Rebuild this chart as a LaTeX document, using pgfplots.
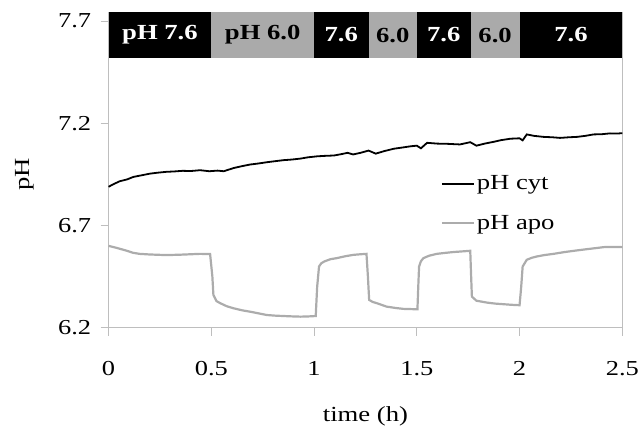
\documentclass[border=0pt]{standalone}
\usepackage{pgfplots}
\pgfplotsset{compat=1.18}
\usepackage{fontspec}
\setmainfont{Liberation Serif}[FakeStretch=1.24]
\definecolor{bandgray}{RGB}{170,170,170}
\definecolor{apogray}{RGB}{172,172,172}
\definecolor{axgray}{RGB}{190,190,190}
\newcommand{\tf}{\fontsize{21.3bp}{24bp}\selectfont}
\newcommand{\lf}{\fontsize{21.5bp}{25bp}\selectfont}
\begin{document}
\begin{tikzpicture}
\path[use as bounding box] (-108.6bp,-98.3bp) rectangle (532.4bp,327.7bp);
\begin{axis}[
  at={(0,0)}, anchor=south west,
  scale only axis, width=513.7bp, height=316bp,
  xmin=0, xmax=2.5, ymin=6.2, ymax=7.745,
  xtick={0,0.5,1,1.5,2,2.5}, ytick={6.2,6.7,7.2,7.7},
  xticklabels={0,0.5,1,1.5,2,2.5}, yticklabels={6.2,6.7,7.2,7.7},
  axis x line*=bottom, axis y line*=box, ytick pos=left,
  tick align=outside, major tick length=8bp,
  tick style={axgray, line width=0.8bp},
  axis line style={axgray, line width=0.8bp, -},
  tick label style={font=\tf},
  xticklabel style={anchor=north, yshift=-22bp},
  yticklabel style={anchor=east, xshift=-6bp},
  xlabel={time (h)}, ylabel={pH},
  label style={font=\lf},
  xlabel style={at={(axis description cs:0.5,-0.28)}, anchor=center},
  ylabel style={at={(axis description cs:-0.1627,0.486)}, anchor=center},
  legend style={at={(axis cs:1.615,6.953)}, anchor=north west, draw=none, fill=none,
    font=\lf, inner sep=0pt, cells={anchor=west}, row sep=20bp},
  legend image code/.code={\draw[#1] (0bp,0bp) -- (32bp,0bp);},
  clip=false,
]
% bands
\addplot[fill=black, draw=none, forget plot] coordinates {(0,7.517) (0.5,7.517) (0.5,7.745) (0,7.745)} -- cycle;
\addplot[fill=bandgray, draw=none, forget plot] coordinates {(0.5,7.517) (1.0,7.517) (1.0,7.745) (0.5,7.745)} -- cycle;
\addplot[fill=black, draw=none, forget plot] coordinates {(1.0,7.517) (1.265,7.517) (1.265,7.745) (1.0,7.745)} -- cycle;
\addplot[fill=bandgray, draw=none, forget plot] coordinates {(1.265,7.517) (1.5,7.517) (1.5,7.745) (1.265,7.745)} -- cycle;
\addplot[fill=black, draw=none, forget plot] coordinates {(1.5,7.517) (1.762,7.517) (1.762,7.745) (1.5,7.745)} -- cycle;
\addplot[fill=bandgray, draw=none, forget plot] coordinates {(1.762,7.517) (2.0,7.517) (2.0,7.745) (1.762,7.745)} -- cycle;
\addplot[fill=black, draw=none, forget plot] coordinates {(2.0,7.517) (2.5,7.517) (2.5,7.745) (2.0,7.745)} -- cycle;
\node[font=\lf\bfseries, text=white] at (axis cs:0.25,7.631) {pH 7.6};
\node[font=\lf\bfseries, text=black] at (axis cs:0.75,7.631) {pH 6.0};
\node[font=\lf\bfseries, text=white] at (axis cs:1.1325,7.631) {7.6};
\node[font=\lf\bfseries, text=black] at (axis cs:1.3825,7.631) {6.0};
\node[font=\lf\bfseries, text=white] at (axis cs:1.631,7.631) {7.6};
\node[font=\lf\bfseries, text=black] at (axis cs:1.881,7.631) {6.0};
\node[font=\lf\bfseries, text=white] at (axis cs:2.25,7.631) {7.6};
% cyt
\addplot[black, line width=1.8bp] coordinates {
(0,6.889) (0.02,6.900) (0.054,6.916) (0.09,6.925) (0.12,6.937) (0.16,6.945)
(0.20,6.953) (0.24,6.958) (0.28,6.962) (0.32,6.964) (0.36,6.967) (0.40,6.966)
(0.445,6.970) (0.49,6.965) (0.53,6.968) (0.56,6.965) (0.61,6.981) (0.65,6.990)
(0.69,6.998) (0.73,7.003) (0.77,7.009) (0.81,7.014) (0.85,7.019) (0.89,7.022)
(0.935,7.027) (0.97,7.033) (1.016,7.038) (1.05,7.040) (1.097,7.042) (1.13,7.048)
(1.163,7.055) (1.19,7.047) (1.226,7.055) (1.265,7.066) (1.30,7.051) (1.34,7.063)
(1.388,7.075) (1.43,7.081) (1.47,7.087) (1.50,7.090) (1.52,7.077) (1.55,7.104)
(1.60,7.100) (1.648,7.099) (1.71,7.096) (1.76,7.107) (1.79,7.090) (1.83,7.100)
(1.875,7.109) (1.91,7.117) (1.956,7.124) (2.00,7.126) (2.015,7.116) (2.035,7.145)
(2.07,7.138) (2.116,7.133) (2.16,7.131) (2.197,7.128) (2.24,7.131) (2.28,7.133)
(2.32,7.138) (2.36,7.145) (2.40,7.146) (2.44,7.150) (2.47,7.149) (2.50,7.151)};
\addlegendentry{pH cyt}
% apo
\addplot[apogray, line width=2.2bp] coordinates {
(0,6.600) (0.04,6.590) (0.086,6.577) (0.12,6.566) (0.151,6.561) (0.2,6.558)
(0.282,6.555) (0.35,6.557) (0.445,6.561) (0.494,6.560) (0.505,6.45) (0.51,6.36)
(0.525,6.330) (0.543,6.320) (0.575,6.305) (0.608,6.295) (0.65,6.285) (0.69,6.278)
(0.73,6.270) (0.77,6.262) (0.81,6.259) (0.853,6.257) (0.9,6.255) (0.935,6.254)
(0.97,6.255) (1.008,6.257) (1.015,6.40) (1.024,6.499) (1.035,6.515) (1.05,6.524)
(1.08,6.535) (1.11,6.540) (1.15,6.549) (1.19,6.556) (1.225,6.559) (1.255,6.561)
(1.262,6.45) (1.268,6.336) (1.285,6.326) (1.305,6.320) (1.353,6.303) (1.40,6.296)
(1.435,6.292) (1.47,6.291) (1.503,6.290) (1.507,6.40) (1.511,6.499) (1.52,6.525)
(1.532,6.540) (1.56,6.552) (1.597,6.561) (1.64,6.566) (1.679,6.570) (1.72,6.573)
(1.76,6.576) (1.764,6.46) (1.768,6.352) (1.79,6.332) (1.84,6.323) (1.88,6.318)
(1.92,6.315) (1.96,6.312) (2.00,6.310) (2.008,6.40) (2.015,6.499) (2.035,6.532)
(2.06,6.542) (2.083,6.548) (2.12,6.555) (2.165,6.561) (2.22,6.570) (2.28,6.578)
(2.328,6.584) (2.37,6.589) (2.41,6.594) (2.45,6.595) (2.50,6.594)};
\addlegendentry{pH apo}
\end{axis}
\end{tikzpicture}
\end{document}
